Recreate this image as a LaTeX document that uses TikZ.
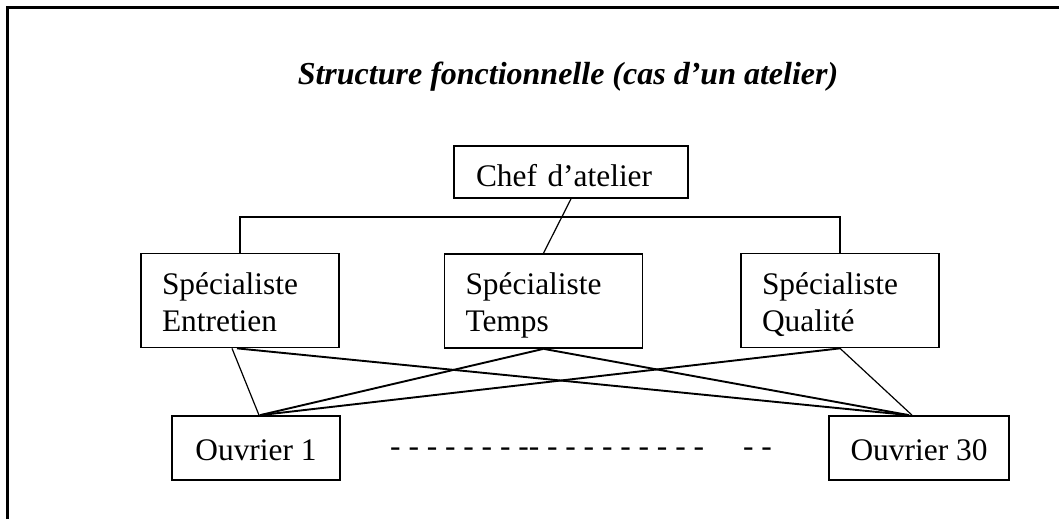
\documentclass[tikz,border=0pt]{standalone}
\usepackage{fontspec}
\setmainfont{Liberation Serif}
\usetikzlibrary{calc}
\tikzset{
  px/.style={x=1pt,y=-1pt},
  box/.style={draw,line width=1.7pt,rectangle,font=\fontsize{31.4}{37}\selectfont,align=left},
  specbox/.style={box,text width=156pt,inner xsep=21pt,inner ysep=0pt,text height=31pt,text depth=44pt,minimum height=94pt},
  ouvbox/.style={box,align=center,inner ysep=0pt,text height=28pt,text depth=4pt,minimum height=64pt},
  thick link/.style={line width=1.9pt},
  thin link/.style={line width=1.2pt},
  frame/.style={line width=3pt}
}
\begin{document}
\begin{tikzpicture}[px]
\useasboundingbox (0,0) rectangle (1059,519);
% outer frame
\draw[frame] (7,519) -- (7,8) -- (1059,8);
% title
\node[anchor=base,font=\fontsize{32}{38}\selectfont\bfseries\itshape,inner sep=0pt] (title) at (568,84) {Structure fonctionnelle (cas d’un atelier)};
% chef
\node[box,text width=190pt,inner xsep=22pt,inner ysep=0pt,text height=32pt,text depth=4pt,minimum height=52pt] (chef) at (571,172) {Chef d’atelier};
% specialists
\node[specbox] (ent) at (240,300.5) {Spécialiste\\Entretien};
\node[specbox] (tem) at (543.5,301) {Spécialiste\\Temps};
\node[specbox] (qua) at (840,300.5) {Spécialiste\\Qualité};
% workers
\node[ouvbox,minimum width=168pt] (o1) at (256,448) {Ouvrier 1};
\node[ouvbox,minimum width=180pt] (o30) at (919,448) {Ouvrier 30};
\node[anchor=base west,inner sep=0pt,font=\fontsize{31.4}{37}\selectfont] (dots) at (390,456) {- - - - - - - -{}- - - - - - - - - -\hspace{39pt}- -};
% bus
\coordinate (bus) at (0,217);
\draw[thick link] (ent.north) -- (ent.north |- bus) -- (qua.north |- bus) -- (qua.north);
\draw[thin link] (chef.south) -- (tem.north);
% links to workers
\draw[thin link] ([xshift=-8pt]ent.south) -- ([xshift=3pt]o1.north);
\draw[thick link] ([xshift=-3pt]ent.south) -- ([xshift=-10pt]o30.north);
\draw[thick link] (tem.south) -- ([xshift=4pt]o1.north);
\draw[thick link] (tem.south) -- ([xshift=-10pt]o30.north);
\draw[thick link] (qua.south) -- ([xshift=4pt]o1.north);
\draw[thin link] (qua.south) -- ([xshift=-7pt]o30.north);
\end{tikzpicture}
\end{document}
